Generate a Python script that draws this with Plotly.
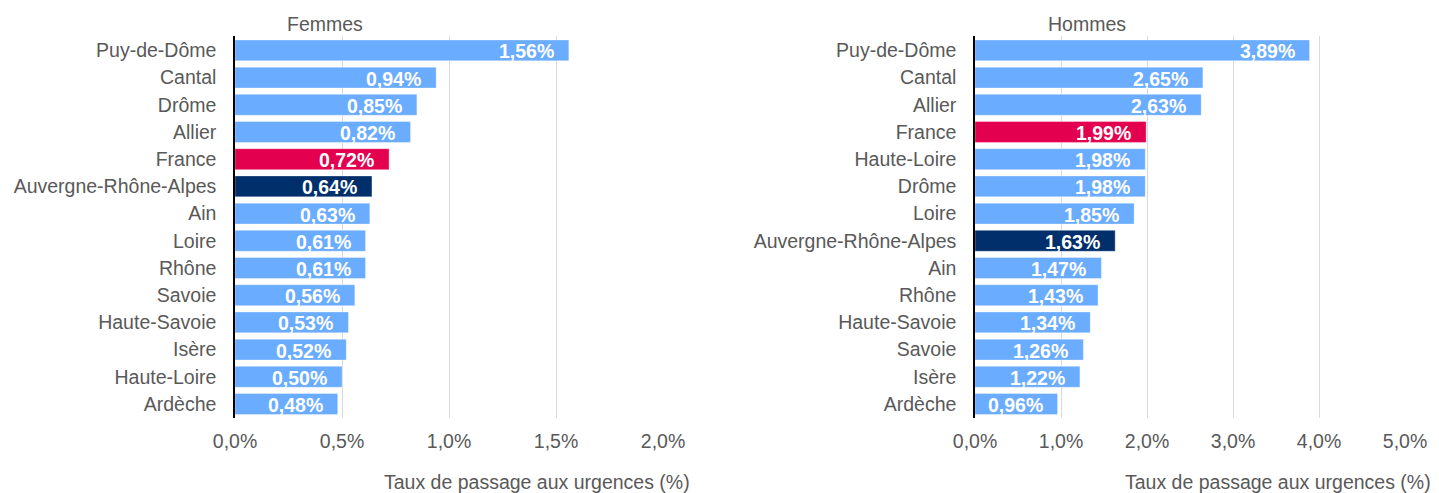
import plotly.graph_objects as go

# ---------------- data ----------------
fem_labels = ["Puy-de-Dôme", "Cantal", "Drôme", "Allier", "France", "Auvergne-Rhône-Alpes",
              "Ain", "Loire", "Rhône", "Savoie", "Haute-Savoie", "Isère", "Haute-Loire", "Ardèche"]
fem_values = [1.56, 0.94, 0.85, 0.82, 0.72, 0.64, 0.63, 0.61, 0.61, 0.56, 0.53, 0.52, 0.50, 0.48]

hom_labels = ["Puy-de-Dôme", "Cantal", "Allier", "France", "Haute-Loire", "Drôme", "Loire",
              "Auvergne-Rhône-Alpes", "Ain", "Rhône", "Haute-Savoie", "Savoie", "Isère", "Ardèche"]
hom_values = [3.89, 2.65, 2.63, 1.99, 1.98, 1.98, 1.85, 1.63, 1.47, 1.43, 1.34, 1.26, 1.22, 0.96]

panel_titles = ["Femmes", "Hommes"]
axis_title = "Taux de passage aux urgences (%)"
fem_ticks = [0.0, 0.5, 1.0, 1.5, 2.0]
hom_ticks = [0.0, 1.0, 2.0, 3.0, 4.0, 5.0]

# ---------------- styles ----------------
C_BASE = "#6AACFF"
C_FRANCE = "#E3004F"
C_ARA = "#002F6C"
FONT = "Liberation Sans, Arial, sans-serif"
GREY = "#595959"
FS = 19.5
W, H = 1439, 493
OFF = 8  # page body margin offset


def px_x(p):
    return (p - OFF) / W


def px_y(p):
    return 1 - (p - OFF) / H


def colour(lbl):
    if lbl == "France":
        return C_FRANCE
    if lbl == "Auvergne-Rhône-Alpes":
        return C_ARA
    return C_BASE


def fmt(v):
    return f"{v:.2f}".replace(".", ",") + "%"


fig = go.Figure()

panels = [
    (fem_labels, fem_values, "x", "y", fem_ticks),
    (hom_labels, hom_values, "x2", "y2", hom_ticks),
]

for labels, values, xa, ya, ticks in panels:
    fig.add_trace(go.Bar(
        x=values, y=labels, orientation="h", xaxis=xa, yaxis=ya,
        marker=dict(color=[colour(l) for l in labels],
                    line=dict(color="rgba(255,255,255,0.35)", width=1)),
        showlegend=False, hoverinfo="x+y",
    ))
    for l, v in zip(labels, values):
        fig.add_annotation(
            x=v, y=l, xref=xa, yref=ya, text=fmt(v), showarrow=False,
            xanchor="right", xshift=-13, yshift=-1,
            font=dict(family=FONT, size=FS, color="white", weight="bold"),
        )

x_doms = [(px_x(235), px_x(663)), (px_x(975), px_x(1405))]
y_dom = (px_y(417.6), px_y(36.4))

for i, (labels, values, xa, ya, ticks) in enumerate(panels):
    suffix = "" if i == 0 else "2"
    fig.update_layout(**{
        f"xaxis{suffix}": dict(
            domain=list(x_doms[i]), range=[ticks[0], ticks[-1]], anchor=ya,
            tickvals=ticks, ticktext=[f"{t:.1f}".replace(".", ",") + "%" for t in ticks],
            showgrid=True, gridcolor="#D9D9D9", gridwidth=1, zeroline=False,
            showline=False, ticks="", ticklabelstandoff=10, automargin=False,
            tickfont=dict(family=FONT, size=FS, color=GREY), fixedrange=True,
        ),
        f"yaxis{suffix}": dict(
            domain=list(y_dom), anchor=xa, autorange="reversed",
            categoryorder="array", categoryarray=labels,
            showline=True, linecolor="#000000", linewidth=1.5,
            showgrid=False, ticks="", ticklabelstandoff=13, automargin=False,
            tickfont=dict(family=FONT, size=FS, color=GREY), fixedrange=True,
        ),
    })

# panel titles and axis titles
title_x = [325, 1087]
axtitle_x = [537, 1278]
for i in range(2):
    fig.add_annotation(
        x=px_x(title_x[i]), y=px_y(24), xref="paper", yref="paper", text=panel_titles[i],
        showarrow=False, xanchor="center", yanchor="middle",
        font=dict(family=FONT, size=FS, color=GREY),
    )
    fig.add_annotation(
        x=px_x(axtitle_x[i]), y=px_y(482), xref="paper", yref="paper", text=axis_title,
        showarrow=False, xanchor="center", yanchor="middle",
        font=dict(family=FONT, size=FS, color=GREY),
    )

fig.update_layout(
    width=W, height=H,
    margin=dict(l=0, r=0, t=0, b=0, autoexpand=False),
    paper_bgcolor="white", plot_bgcolor="white",
    bargap=0.23,
    font=dict(family=FONT, color=GREY),
)

fig.write_html("out.html", config={"displayModeBar": False})
